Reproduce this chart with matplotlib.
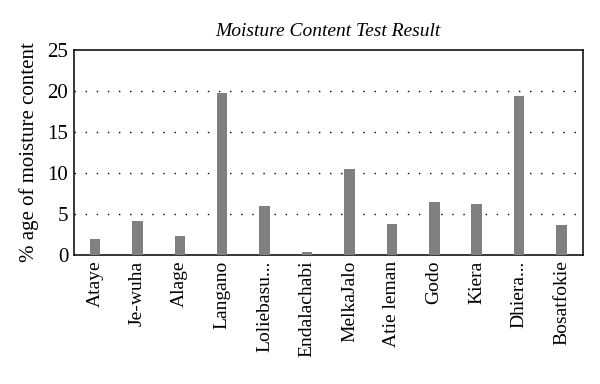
import matplotlib
matplotlib.use("Agg")
import matplotlib.pyplot as plt

sites = ["Ataye", "Je-wuha", "Alage", "Langano", "Loliebasu...", "Endalachabi",
         "MelkaJalo", "Atie leman", "Godo", "Kiera", "Dhiera...", "Bosatfokie"]
moisture = [2.0, 4.2, 2.3, 19.7, 6.0, 0.4, 10.5, 3.8, 6.5, 6.2, 19.4, 3.6]
yticks = [0, 5, 10, 15, 20, 25]

plt.rcParams['font.family'] = ['Liberation Serif', 'DejaVu Serif']

fig = plt.figure(figsize=(6, 3.84), dpi=100)
ax = fig.add_axes([0.123, 0.336, 0.848, 0.534])

x = list(range(len(sites)))
ax.bar(x, moisture, width=0.25, color="#808080", zorder=3)

ax.set_xlim(-0.5, len(sites) - 0.5)
ax.set_ylim(0, 25)
ax.set_yticks(yticks)
ax.set_yticklabels([str(t) for t in yticks], fontsize=15)
ax.set_xticks(x)
ax.set_xticklabels(sites, rotation=90, fontsize=14)
ax.tick_params(axis="both", length=0, pad=4)
for t in [5, 10, 15, 20]:
    ax.axhline(t, color="black", linestyle=(0, (1, 7)), linewidth=1, zorder=1)
for s in ax.spines.values():
    s.set_linewidth(1.1)

ax.set_ylabel("% age of moisture content", fontsize=15, labelpad=6)
ax.set_title("Moisture Content Test Result", fontsize=14, style="italic", pad=10)

fig.savefig("out.png", dpi=100)
